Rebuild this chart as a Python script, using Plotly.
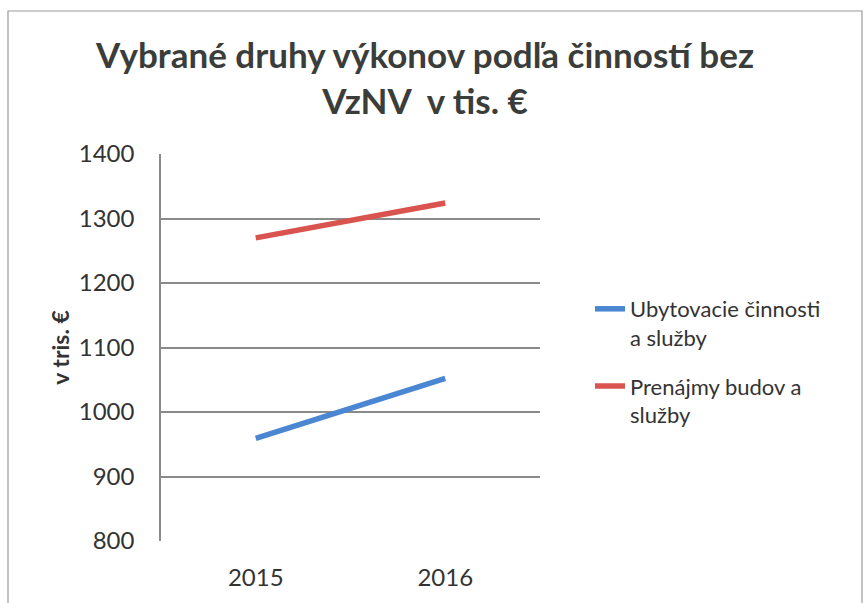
import plotly.graph_objects as go

years = ["2015", "2016"]
ubytovacie = [959, 1052]
prenajmy = [1270, 1324]
series_names = ["Ubytovacie činnosti<br>a služby", "Prenájmy budov a<br>služby"]
y_ticks = [800, 900, 1000, 1100, 1200, 1300, 1400]

FONT = "Lato, 'Open Sans', sans-serif"
TXT = "#333333"

W, H = 866, 603
L, R, T, B = 161, 326, 154, 62
PW, PH = W - L - R, H - T - B

fig = go.Figure()
fig.add_trace(go.Scatter(x=years, y=ubytovacie, mode="lines", name=series_names[0],
                         line=dict(color="#4A86D1", width=5.5), legendgroup="a"))
fig.add_trace(go.Scatter(x=years, y=prenajmy, mode="lines", name=series_names[1],
                         line=dict(color="#D9534F", width=5.5), legendgroup="b"))

fig.update_layout(
    width=W, height=H,
    margin=dict(l=L, r=R, t=T, b=B),
    paper_bgcolor="white", plot_bgcolor="white",
    font=dict(family=FONT, color=TXT),
    title=dict(text="<b>Vybrané druhy výkonov podľa činností bez<br>VzNV  v tis. €</b>",
               x=425 / W, xanchor="center", y=1 - 68 / H, yanchor="top",
               font=dict(size=35, color="#3a3d3a", family=FONT)),
    showlegend=True,
    legend=dict(x=(590 - L) / PW, xanchor="left", y=(H - B - 288) / PH, yanchor="top",
                font=dict(size=22, color=TXT, family=FONT),
                valign="top", tracegroupgap=17, bgcolor="rgba(0,0,0,0)"),
    xaxis=dict(type="category", range=[-0.5, 1.5], showgrid=False, showline=False,
               ticks="", tickfont=dict(size=24, color=TXT), ticklabelstandoff=20,
               zeroline=False),
    yaxis=dict(range=[800, 1400], tickvals=y_ticks, showgrid=True,
               gridcolor="#8a8a8a", gridwidth=1.5, showline=True, linecolor="#8a8a8a",
               linewidth=1.5, ticks="", tickfont=dict(size=24, color=TXT),
               ticklabelstandoff=20, zeroline=False,
               title=dict(text="<b>v tris. €</b>", font=dict(size=23, color=TXT, family=FONT),
                          standoff=3)),
    shapes=[dict(type="rect", xref="paper", yref="paper",
                 x0=(8 - L) / PW, x1=(862 - L) / PW,
                 y0=(H - B - 640) / PH, y1=(H - B - 11) / PH,
                 line=dict(color="#9a9a9a", width=1.2), layer="below")],
)

fig.write_html("out.html", config={"displayModeBar": False},
               post_script="document.body.style.margin='0';")
